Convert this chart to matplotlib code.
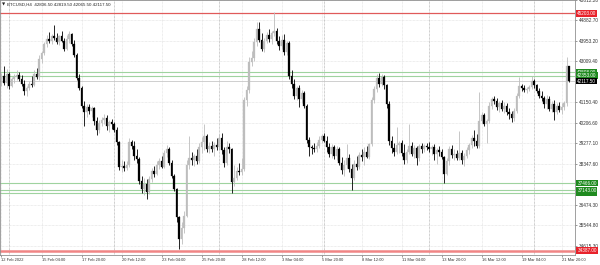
import matplotlib
matplotlib.use("Agg")
import matplotlib.pyplot as plt
from matplotlib.transforms import blended_transform_factory

plt.rcParams["font.family"] = ["Liberation Sans", "DejaVu Sans"]

TITLE = "BTCUSD,H4  42806.50 42819.50 42065.50 42117.50"

# H4 bars, 12 Feb 2022 12:00 -> 22 Mar 2022 08:00
opens = [
    42200, 42350, 42050, 42450, 41900, 42200, 42300, 42400, 42200, 42000,
    41650, 41800, 42000, 41950, 42450, 42300, 43100, 43400, 43800, 44050,
    43950, 44150, 44100, 43900, 44150, 43950, 43600, 44050, 44250, 43800,
    43300, 42250, 41800, 41000, 40700, 40950, 40750, 40900, 40300, 39900,
    40200, 40350, 40450, 40050, 40250, 40150, 39900, 39350, 38200, 38250,
    38150, 38300, 39350, 39150, 38700, 38550, 37550, 37200, 37400, 37050,
    37650, 38000, 37900, 38300, 38450, 38200, 38850, 39000, 38400, 37800,
    37200, 35900, 34900, 35400, 35950, 38300, 38600, 38500, 38700, 38450,
    39100, 39350, 39600, 39000, 39150, 39000, 39200, 39100, 39500, 38950,
    38400, 39100, 39000, 37500, 37700, 38000, 37950, 38100, 41250, 41700,
    43000, 43150, 43900, 44500, 44000, 43600, 43950, 44200, 44050, 44300,
    44400, 43950, 43700, 44000, 43450, 43850, 42350, 42000, 41450, 41800,
    41300, 41550, 41000, 39450, 39100, 39050, 39000, 39150, 39450, 39600,
    39400, 39100, 38800, 39100, 38700, 39000, 38400, 38050, 38300, 38600,
    38100, 37700, 38350, 38200, 38750, 38650, 38900, 38650, 39250, 41250,
    41750, 42250, 42000, 42300, 41950, 41050, 39400, 39050, 38900, 39200,
    39300, 38850, 38500, 38900, 39150, 38800, 39050, 38600, 39150, 39000,
    39150, 39100, 39000, 39100, 38800, 38950, 38900, 38650, 37900, 38450,
    39000, 38750, 38800, 38600, 38850, 38500, 38700, 38950, 39200, 39500,
    39400, 39150, 40300, 40550, 40150, 40300, 41000, 41300, 41200, 40950,
    41100, 40850, 41000, 40700, 40600, 40450, 40750, 41450, 41900, 41800,
    41700, 41750, 41850, 42100, 41950, 41650, 41450, 41350, 41050, 41300,
    40850, 41050, 40700, 41000, 40800, 40950, 41100, 42806.5,
]
highs = [
    42500, 42800, 42650, 42550, 42300, 42450, 42600, 42550, 42400, 42150,
    41900, 42100, 42350, 42600, 42700, 43300, 43500, 43900, 44200, 44350,
    44250, 44660, 44300, 44200, 44400, 44100, 44200, 44400, 44300, 44000,
    43400, 42450, 41900, 41200, 41050, 41050, 41000, 40950, 40500, 40350,
    40500, 40600, 40550, 40350, 40400, 40250, 40000, 39400, 38500, 38450,
    38450, 39500, 39450, 39400, 39000, 38650, 37800, 37700, 37650, 37800,
    38150, 38250, 38450, 38600, 38700, 38950, 39200, 39100, 38500, 37900,
    37250, 35950, 35700, 36200, 38500, 39600, 38900, 38800, 39000, 39300,
    39550, 40180, 39700, 39350, 39400, 39350, 39500, 39700, 39750, 39100,
    39400, 39300, 39050, 38300, 38200, 38400, 38600, 41400, 41900, 43200,
    43500, 44100, 44800, 44800, 44300, 44100, 44350, 44500, 44400, 45250,
    44550, 44150, 44200, 44250, 43950, 43950, 42600, 42200, 41900, 41950,
    41700, 41650, 41050, 39550, 39200, 39300, 39350, 39600, 39700, 39750,
    39600, 39300, 39250, 39200, 39150, 39100, 38650, 38500, 39250, 38800,
    38350, 38500, 38700, 38900, 39000, 39100, 39150, 39300, 41400, 41900,
    42460, 42500, 42450, 42400, 42000, 41200, 39600, 39300, 40000, 39400,
    39450, 39250, 39000, 40150, 39350, 39200, 39150, 39250, 39300, 39250,
    39300, 39350, 39200, 39250, 39050, 39150, 39000, 38700, 38600, 39150,
    39200, 39000, 38950, 39850, 38950, 38850, 39100, 39300, 39650, 39900,
    39700, 41620, 40700, 40650, 40400, 41150, 41400, 41450, 41350, 41200,
    41250, 41150, 41100, 40900, 40750, 40900, 41550, 42300, 42000, 41950,
    41850, 41950, 42350, 42200, 42000, 41800, 41650, 41450, 41500, 41450,
    41200, 41250, 41100, 41150, 41100, 41200, 43220, 42819.5,
]
lows = [
    41900, 41950, 41800, 41750, 41850, 42050, 42150, 42100, 41900, 41500,
    41450, 41700, 41850, 41900, 42200, 42150, 42950, 43300, 43650, 43850,
    43800, 44000, 43800, 43750, 43900, 43500, 43550, 43850, 43700, 43200,
    42150, 41700, 40900, 40050, 40500, 40600, 40500, 40100, 39650, 39750,
    40050, 40150, 39900, 39800, 39950, 39800, 39200, 38050, 37950, 38000,
    38050, 38200, 39000, 38500, 38400, 37400, 37000, 36900, 36750, 36950,
    37500, 37750, 37850, 38100, 38150, 38150, 38650, 38300, 37700, 37100,
    35700, 34450, 34700, 35200, 35900, 38100, 38300, 38250, 38350, 38400,
    38850, 38950, 38900, 38850, 38900, 38700, 38950, 38950, 38800, 38200,
    38300, 38850, 37000, 37350, 37600, 37850, 37850, 38000, 41000, 41550,
    42800, 43050, 43700, 43900, 43500, 43450, 43850, 43900, 43800, 44150,
    43800, 43550, 43600, 43300, 43300, 42200, 41800, 41300, 41250, 40950,
    41100, 40900, 39300, 38700, 38800, 38900, 38900, 39050, 39300, 39350,
    38900, 38650, 38600, 38550, 38500, 38300, 37900, 37800, 38150, 37950,
    37150, 37600, 38050, 38100, 38450, 38300, 38600, 38550, 39150, 41100,
    41600, 41850, 41900, 41750, 40900, 39200, 38850, 38700, 38800, 38850,
    38700, 38350, 38400, 38800, 38700, 38600, 38300, 38450, 38850, 38900,
    38950, 38900, 38750, 38500, 38350, 38700, 38550, 37450, 37850, 38300,
    38600, 38500, 38500, 38500, 38350, 38250, 38600, 38800, 39050, 39150,
    39050, 39050, 40200, 40050, 39300, 40200, 40850, 41050, 40800, 40700,
    40750, 40650, 40550, 40400, 40250, 40300, 40650, 41350, 41650, 41600,
    41550, 41650, 41750, 41800, 41550, 41350, 41200, 40900, 40850, 40750,
    40700, 40350, 40600, 40700, 40600, 40800, 41000, 42065.5,
]
closes = [
    42350, 42050, 42450, 41900, 42200, 42300, 42400, 42200, 42000, 41650,
    41800, 42000, 41950, 42450, 42300, 43100, 43400, 43800, 44050, 43950,
    44150, 44100, 43900, 44150, 43950, 43600, 44050, 44250, 43800, 43300,
    42250, 41800, 41000, 40700, 40950, 40750, 40900, 40300, 39900, 40200,
    40350, 40450, 40050, 40250, 40150, 39900, 39350, 38200, 38250, 38150,
    38300, 39350, 39150, 38700, 38550, 37550, 37200, 37400, 37050, 37650,
    38000, 37900, 38300, 38450, 38200, 38850, 39000, 38400, 37800, 37200,
    35900, 34900, 35400, 35950, 38300, 38600, 38500, 38700, 38450, 39100,
    39350, 39600, 39000, 39150, 39000, 39200, 39100, 39500, 38950, 38400,
    39100, 39000, 37500, 37700, 38000, 37950, 38100, 41250, 41700, 43000,
    43150, 43900, 44500, 44000, 43600, 43950, 44200, 44050, 44300, 44400,
    43950, 43700, 44000, 43450, 43850, 42350, 42000, 41450, 41800, 41300,
    41550, 41000, 39450, 39100, 39050, 39000, 39150, 39450, 39600, 39400,
    39100, 38800, 39100, 38700, 39000, 38400, 38050, 38300, 38600, 38100,
    37700, 38350, 38200, 38750, 38650, 38900, 38650, 39250, 41250, 41750,
    42250, 42000, 42300, 41950, 41050, 39400, 39050, 38900, 39200, 39300,
    38850, 38500, 38900, 39150, 38800, 39050, 38600, 39150, 39000, 39150,
    39100, 39000, 39100, 38800, 38950, 38900, 38650, 37900, 38450, 39000,
    38750, 38800, 38600, 38850, 38500, 38700, 38950, 39200, 39500, 39400,
    39150, 40300, 40550, 40150, 40300, 41000, 41300, 41200, 40950, 41100,
    40850, 41000, 40700, 40600, 40450, 40750, 41450, 41900, 41800, 41700,
    41750, 41850, 42100, 41950, 41650, 41450, 41350, 41050, 41300, 40850,
    41050, 40700, 41000, 40800, 40950, 41100, 42800, 42117.5,
]

x_tick_bars = [0, 16, 32, 48, 64, 80, 96, 112, 128, 144, 160, 176, 192, 208, 224]
x_tick_labels = [
    "12 Feb 2022", "15 Feb 04:00", "17 Feb 20:00", "20 Feb 12:00",
    "23 Feb 04:00", "25 Feb 20:00", "28 Feb 12:00", "3 Mar 04:00",
    "5 Mar 20:00", "8 Mar 12:00", "11 Mar 04:00", "13 Mar 20:00",
    "16 Mar 12:00", "19 Mar 04:00", "21 Mar 20:00",
]
week_bars = [3, 45, 87, 129, 171, 213]

y_ticks = [45812.20, 44882.70, 43953.20, 43009.40, 41150.40, 40206.60,
           39277.10, 38347.60, 36474.30, 35544.80, 34615.30]

red_levels = [45203.00, 34387.00]
green_levels = [42508.00, 42353.00, 37466.00, 37033.00, 37143.00]
last_price = 42117.50

BULL = "#bdbdbd"
BEAR = "#000000"
GRID = "#dcdcdc"

fig = plt.figure(figsize=(6, 2.65), dpi=100)
ax = fig.add_axes([0, 10 / 265, 575 / 600, 255 / 265])
ax.set_xlim(-0.6, 229.4)
ax.set_ylim(34185, 45800)

# grid
for p in y_ticks:
    ax.axhline(p, color=GRID, lw=0.5, ls=(0, (1, 1)), zorder=0)
for b in x_tick_bars:
    ax.axvline(b, color=GRID, lw=0.5, ls=(0, (1, 1)), zorder=0)
for b in week_bars:
    ax.axvline(b, color="#a0a0a0", lw=0.5, ls=(0, (1, 1)), zorder=0)

# levels
ax.axhline(red_levels[0], color="#e05a5a", lw=0.9, zorder=1)
ax.axhline(red_levels[1], color="#f08585", lw=1.8, zorder=1)
for p in green_levels:
    ax.axhline(p, color="#9fd39f", lw=0.8, zorder=1)
ax.axhline(last_price, color="#c8c8c8", lw=0.6, zorder=1)

# candles
for i, (o, h, l, c) in enumerate(zip(opens, highs, lows, closes)):
    col = BULL if c >= o else BEAR
    ax.vlines(i, l, h, color=col, lw=0.6, zorder=2)
    lo, hi = min(o, c), max(o, c)
    ax.bar(i, max(hi - lo, 15), bottom=lo, width=0.7, color=col,
           edgecolor=col, linewidth=0.2, zorder=3)

for s in ax.spines.values():
    s.set_color("#909090")
    s.set_linewidth(0.6)

ax.yaxis.tick_right()
ax.set_yticks(y_ticks)
ax.set_yticklabels([f"{v:.2f}" for v in y_ticks])
ax.tick_params(axis="y", length=1.5, width=0.5, color="#707070",
               labelsize=3.4, labelcolor="#333333", pad=1.0)
ax.set_xticks(x_tick_bars)
ax.set_xticklabels(x_tick_labels, ha="left")
ax.tick_params(axis="x", length=1.5, width=0.5, color="#707070",
               labelsize=2.9, labelcolor="#333333", pad=1.0)

ax.text(0.003, 0.992, "\u25bc", transform=ax.transAxes, ha="left", va="top",
        fontsize=3.0, color="#222222", family="DejaVu Sans")
ax.text(0.013, 0.992, TITLE, transform=ax.transAxes, ha="left", va="top",
        fontsize=3.2, color="#222222")

# price labels in the right margin
tr = blended_transform_factory(ax.transAxes, ax.transData)


def tag(price, face):
    ax.text(1.004, price, f"{price:.2f}", transform=tr, ha="left",
            va="center", fontsize=3.3, color="white", clip_on=False,
            zorder=6, bbox=dict(boxstyle="square,pad=0.2", fc=face,
                                ec=face, lw=0))


for p in red_levels:
    tag(p, "#e8222b")
for p in green_levels:
    tag(p, "#1f8a1f")
tag(last_price, "#000000")

fig.savefig("out.png", dpi=100, facecolor="white")
